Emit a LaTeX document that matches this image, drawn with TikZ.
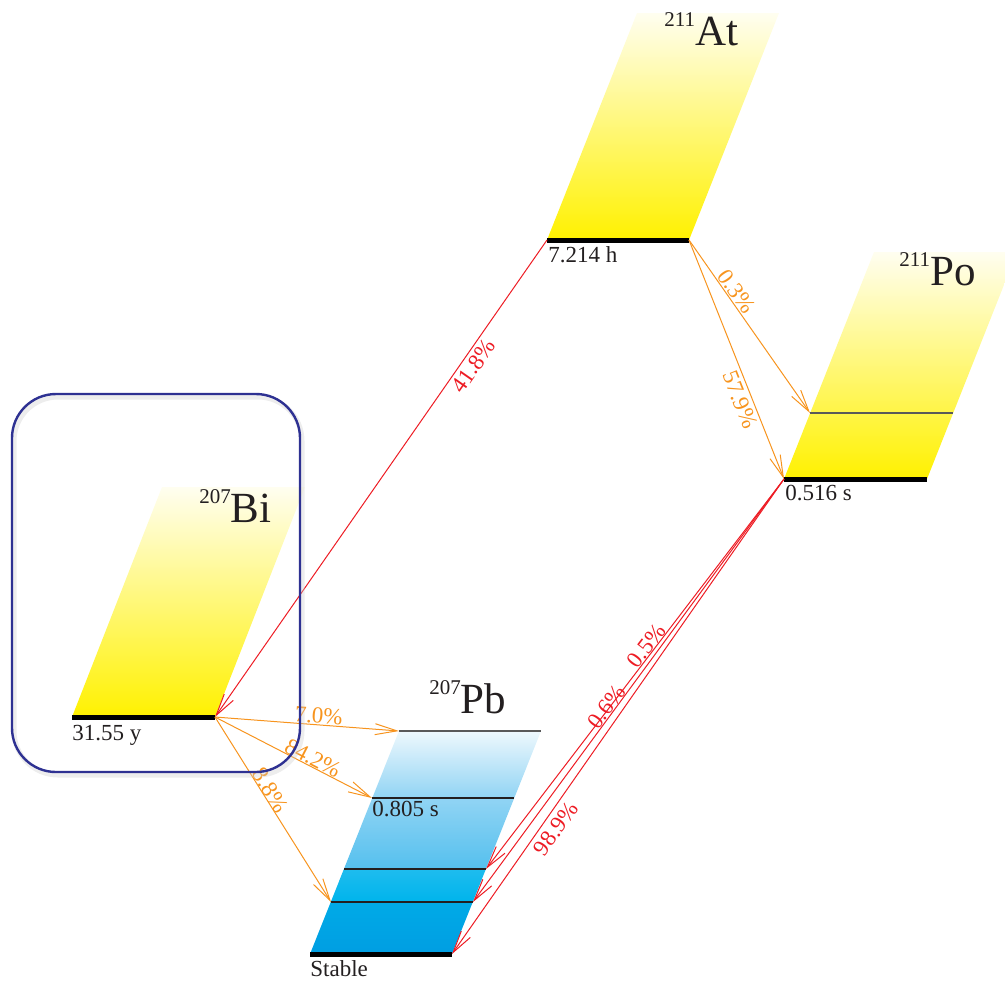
\documentclass[tikz,border=0pt]{standalone}
\usepackage{fontspec}
\setmainfont{Liberation Serif}
\usetikzlibrary{arrows.meta}
\definecolor{betaorange}{RGB}{247,148,30}
\definecolor{alphared}{RGB}{237,28,36}
\definecolor{frameblue}{RGB}{46,49,146}
\definecolor{textgray}{RGB}{35,31,32}
\definecolor{yelbot}{RGB}{255,241,0}
\definecolor{yeltop}{RGB}{255,254,240}
\definecolor{pbca}{RGB}{0,158,226}
\definecolor{pbcb}{RGB}{0,170,231}
\definecolor{pbcc}{RGB}{0,180,236}
\definecolor{pbcd}{RGB}{30,188,238}
\definecolor{pbce}{RGB}{85,192,238}
\definecolor{pbcf}{RGB}{145,212,244}
\definecolor{pbcg}{RGB}{238,248,253}
\pgfdeclareverticalshading{pbshade}{100bp}{color(0bp)=(pbca); color(25bp)=(pbca);
  color(36.6bp)=(pbcb); color(36.8bp)=(pbcc); color(44bp)=(pbcd); color(44.2bp)=(pbce);
  color(60bp)=(pbcf); color(75bp)=(pbcg); color(100bp)=(pbcg)}
\newcommand{\nuclide}[2]{{\fontsize{10.5}{12}\selectfont\raisebox{9.5pt}{#1}}{\fontsize{21.5}{24}\selectfont #2}}
\begin{document}
\begin{tikzpicture}[x=0.5pt,y=-0.5pt]
	\tikzset{level_bar/.style={line width=2.5pt},
		level_line/.style={line width=0.6pt, textgray},
		beta_arrow/.style={betaorange, line width=0.5pt, -{Straight Barb[length=11pt,width=5.5pt]}},
		alpha_arrow/.style={alphared, line width=0.5pt, -{Straight Barb[length=11pt,width=5.5pt]}},
		ratio/.style={sloped, inner sep=0.5pt, font=\fontsize{11.5}{13}\selectfont},
		halflife/.style={anchor=base west, inner sep=0pt, text=textgray, font=\fontsize{11.5}{13}\selectfont},
		nuc_name/.style={anchor=base west, inner sep=0pt, text=textgray},
		bi_frame/.style={draw=frameblue, line width=1.2pt, rounded corners=22pt}}
	\useasboundingbox (0,0) rectangle (1005,981);
	\clip (0,0) rectangle (1005,981);
	\coordinate (at_l) at (547,240);
	\coordinate (at_r) at (689,240);
	\coordinate (po_l) at (784,479);
	\coordinate (po_r) at (927,479);
	\coordinate (po_x) at (810,413);
	\coordinate (po_xr) at (953,413);
	\coordinate (bi_l) at (72,717);
	\coordinate (bi_r) at (215,717);
	\coordinate (pb_l) at (310,954);
	\coordinate (pb_r) at (452,954);
	\coordinate (pb1_l) at (331,902);
	\coordinate (pb1_r) at (473,902);
	\coordinate (pb2_l) at (344,869);
	\coordinate (pb2_r) at (486,869);
	\coordinate (pb3_l) at (372,798);
	\coordinate (pb3_r) at (514,798);
	\coordinate (pb4_l) at (399,731);
	\coordinate (pb4_r) at (541,731);
	% nuclide bands
	\shade[top color=yeltop, bottom color=yelbot] (at_l) -- (at_r) -- ++(90,-227) -- ++(-142,0) -- cycle;
	\shade[top color=yeltop, bottom color=yelbot] (po_l) -- (po_r) -- ++(90,-227) -- ++(-143,0) -- cycle;
	\shade[top color=yeltop, bottom color=yelbot] (bi_l) -- (bi_r) -- ++(90,-230) -- ++(-143,0) -- cycle;
	\shade[shading=pbshade] (pb_l) -- (pb_r) -- (pb4_r) -- (pb4_l) -- cycle;
	% levels
	\draw[level_line, black!65] (po_x) -- (po_xr);
	\draw[level_line, black!65] (pb4_l) -- (pb4_r);
	\draw[level_line] (pb3_l) -- (pb3_r);
	\draw[level_line] (pb2_l) -- (pb2_r);
	\draw[level_line] (pb1_l) -- (pb1_r);
	\draw[level_bar] (at_l) -- (at_r);
	\draw[level_bar] (po_l) -- (po_r);
	\draw[level_bar] (bi_l) -- (bi_r);
	\draw[level_bar] (pb_l) -- (pb_r);
	% decays
	\draw[beta_arrow] (at_r) -- node[ratio, pos=0.33, above] (r_at_x) {0.3\%} (po_x);
	\draw[beta_arrow] (at_r) -- node[ratio, pos=0.65, below, inner sep=1.5pt] (r_at_po) {57.9\%} (po_l);
	\draw[alpha_arrow] (at_l) -- node[ratio, pos=0.25, below, inner sep=1.7pt] (r_at_bi) {41.8\%} (bi_r);
	\draw[beta_arrow] (bi_r) -- node[ratio, pos=0.56, above] (r_bi_4) {7.0\%} (pb4_l);
	\draw[beta_arrow] (bi_r) -- node[ratio, pos=0.6, above, inner sep=0pt] (r_bi_3) {84.2\%} (pb3_l);
	\draw[beta_arrow] (bi_r) -- node[ratio, pos=0.42, above, inner sep=0pt] (r_bi_1) {8.8\%} (pb1_l);
	\draw[alpha_arrow] (po_l) -- node[ratio, pos=0.44, above, inner sep=0pt] (r_po_2) {0.5\%} (pb2_r);
	\draw[alpha_arrow] (po_l) -- node[ratio, pos=0.55, above, inner sep=0pt] (r_po_1) {0.6\%} (pb1_r);
	\draw[alpha_arrow] (po_l) -- node[ratio, pos=0.72, below, inner sep=2.5pt] (r_po_0) {98.9\%} (pb_r);
	% names and half-lives
	\node[nuc_name] (at_name) at (664,45) {\nuclide{211}{At}};
	\node[nuc_name] (po_name) at (899,285) {\nuclide{211}{Po}};
	\node[nuc_name] (bi_name) at (199,522) {\nuclide{207}{Bi}};
	\node[nuc_name] (pb_name) at (429,713) {\nuclide{207}{Pb}};
	\node[halflife] (at_hl) at (548,262) {7.214 h};
	\node[halflife] (po_hl) at (785,500) {0.516 s};
	\node[halflife] (bi_hl) at (72,740) {31.55 y};
	\node[halflife] (pb_hl) at (372,816) {0.805 s};
	\node[halflife] (pb_st) at (310,976) {Stable};
	% frame round the parent
	\draw[black!20, opacity=0.35, line width=2.5pt, rounded corners=22pt] (14,397) rectangle (302,775);
	\draw[bi_frame] (12,394) rectangle (300,772);
\end{tikzpicture}
\end{document}
